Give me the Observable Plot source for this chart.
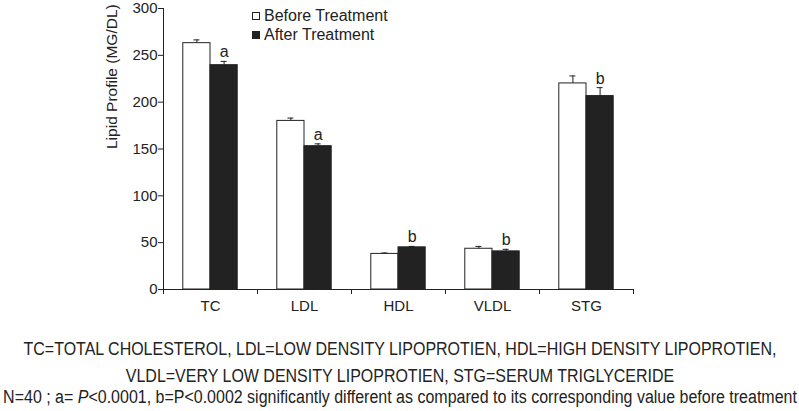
<!DOCTYPE html>
<html>
<head>
<meta charset="utf-8">
<script src="https://cdn.jsdelivr.net/npm/d3@7"></script>
<script src="https://cdn.jsdelivr.net/npm/@observablehq/plot@0.6"></script>
<style>
  html, body { margin: 0; padding: 0; background: #fff; }
  #wrap { position: relative; width: 799px; height: 411px; font-family: "Liberation Sans", Arial, sans-serif; color: #222; overflow: hidden; }
  #chart svg { display: block; }
  .leg { position: absolute; left: 252px; font-size: 16px; line-height: 16px; display: flex; align-items: center; }
  .sw { display: inline-block; width: 6px; height: 6px; border: 1px solid #222; margin-right: 4px; box-sizing: content-box; }
  .cap { position: absolute; left: 399.5px; font-size: 18px; line-height: 20px; white-space: nowrap; transform-origin: 0 50%; }
</style>
</head>
<body>
<div id="wrap">
  <div id="chart"></div>
  <div class="leg" style="top:8px"><span class="sw" style="background:#fff"></span><span id="l0"></span></div>
  <div class="leg" style="top:27px"><span class="sw" style="background:#222"></span><span id="l1"></span></div>
  <div class="cap" id="c0" style="top:339px"></div>
  <div class="cap" id="c1" style="top:366px"></div>
  <div class="cap" id="c2" style="top:387px"></div>
</div>
<script>
// ---- data ----
const categories = ["TC", "LDL", "HDL", "VLDL", "STG"];
const seriesNames = ["Before Treatment", "After Treatment"];
const before = [263, 180, 38, 43.5, 220];
const beforeErr = [3.5, 3, 1, 2.5, 8];
const after = [239.5, 153, 45, 40.7, 206.5];
const afterErr = [4, 2.5, 1, 2.2, 9];
const sigLetters = ["a", "a", "b", "b", "b"];
const yTicks = [0, 50, 100, 150, 200, 250, 300];
const yLabel = "Lipid Profile (MG/DL)";
const captionLines = [
  "TC=TOTAL CHOLESTEROL, LDL=LOW DENSITY LIPOPROTIEN, HDL=HIGH DENSITY LIPOPROTIEN,",
  "VLDL=VERY LOW DENSITY LIPOPROTIEN, STG=SERUM TRIGLYCERIDE"
];
const footnote = ["N=40 ; a= ", "P", "<0.0001, b=P<0.0002 significantly different as compared to its corresponding value before treatment"];

// ---- layout ----
const W = 799, H = 320;
const mL = 163, mR = 166, mT = 8, mB = 31;
const bw = (W - mL - mR) / categories.length;
const barW = 27.2;
const capW = 6;
const ink = "#222";

const rows = categories.map((c, i) => ({
  cat: c, before: before[i], beforeErr: beforeErr[i], after: after[i], afterErr: afterErr[i], sig: sigLetters[i]
}));

const chart = Plot.plot({
  width: W, height: H,
  marginLeft: mL, marginRight: mR, marginTop: mT, marginBottom: mB,
  style: { fontFamily: "Liberation Sans, Arial, sans-serif", fontSize: "15px", color: ink, background: "#fff" },
  x: { type: "band", domain: categories, padding: 0 },
  y: { domain: [0, 300] },
  marks: [
    Plot.barY(rows, { x: "cat", y: "before", fill: "#fff", stroke: ink, strokeWidth: 1,
      insetLeft: bw / 2 - barW, insetRight: bw / 2 }),
    Plot.barY(rows, { x: "cat", y: "after", fill: ink, stroke: ink, strokeWidth: 1,
      insetLeft: bw / 2, insetRight: bw / 2 - barW }),
    Plot.ruleX(rows, { x: "cat", y1: "before", y2: d => d.before + d.beforeErr, dx: -barW / 2, stroke: ink }),
    Plot.tickY(rows, { x: "cat", y: d => d.before + d.beforeErr, stroke: ink,
      insetLeft: bw / 2 - barW / 2 - capW / 2, insetRight: bw / 2 + barW / 2 - capW / 2 }),
    Plot.ruleX(rows, { x: "cat", y1: "after", y2: d => d.after + d.afterErr, dx: barW / 2, stroke: ink }),
    Plot.tickY(rows, { x: "cat", y: d => d.after + d.afterErr, stroke: ink,
      insetLeft: bw / 2 + barW / 2 - capW / 2, insetRight: bw / 2 - barW / 2 - capW / 2 }),
    Plot.text(rows, { x: "cat", y: d => d.after + d.afterErr, text: "sig", dx: barW / 2, dy: -4,
      lineAnchor: "bottom", fontSize: 16, fill: ink }),
    Plot.ruleY([0], { stroke: ink }),
    Plot.ruleX([categories[0]], { y1: 0, y2: 300, dx: -bw / 2, stroke: ink }),
    Plot.ruleX(categories, { x: d => d, y1: 0, y2: 0, dx: -bw / 2, insetBottom: -5, stroke: ink }),
    Plot.ruleX([categories[categories.length - 1]], { x: d => d, y1: 0, y2: 0, dx: bw / 2, insetBottom: -5, stroke: ink }),
    Plot.axisX({ tickSize: 0, tickPadding: 11, fontSize: 15, label: null }),
    Plot.axisY({ ticks: yTicks, tickSize: 5, tickPadding: 1, fontSize: 15, label: null }),
    Plot.text([yLabel], { frameAnchor: "left", text: d => d, rotate: -90, dx: -51, fontSize: 15.5, fill: ink })
  ]
});
document.getElementById("chart").appendChild(chart);

document.getElementById("l0").textContent = seriesNames[0];
document.getElementById("l1").textContent = seriesNames[1];
document.getElementById("c0").textContent = captionLines[0];
document.getElementById("c1").textContent = captionLines[1];
const c2 = document.getElementById("c2");
c2.append(footnote[0]);
const it = document.createElement("i"); it.textContent = footnote[1]; c2.append(it);
c2.append(footnote[2]);

// condense the caption lines so the widest fits the page width like the reference
const widest = c2.offsetWidth;
const k = Math.min(1, 794 / widest);
document.querySelectorAll(".cap").forEach(el => { el.style.transform = `scaleX(${k}) translateX(-50%)`; });
</script>
</body>
</html>
